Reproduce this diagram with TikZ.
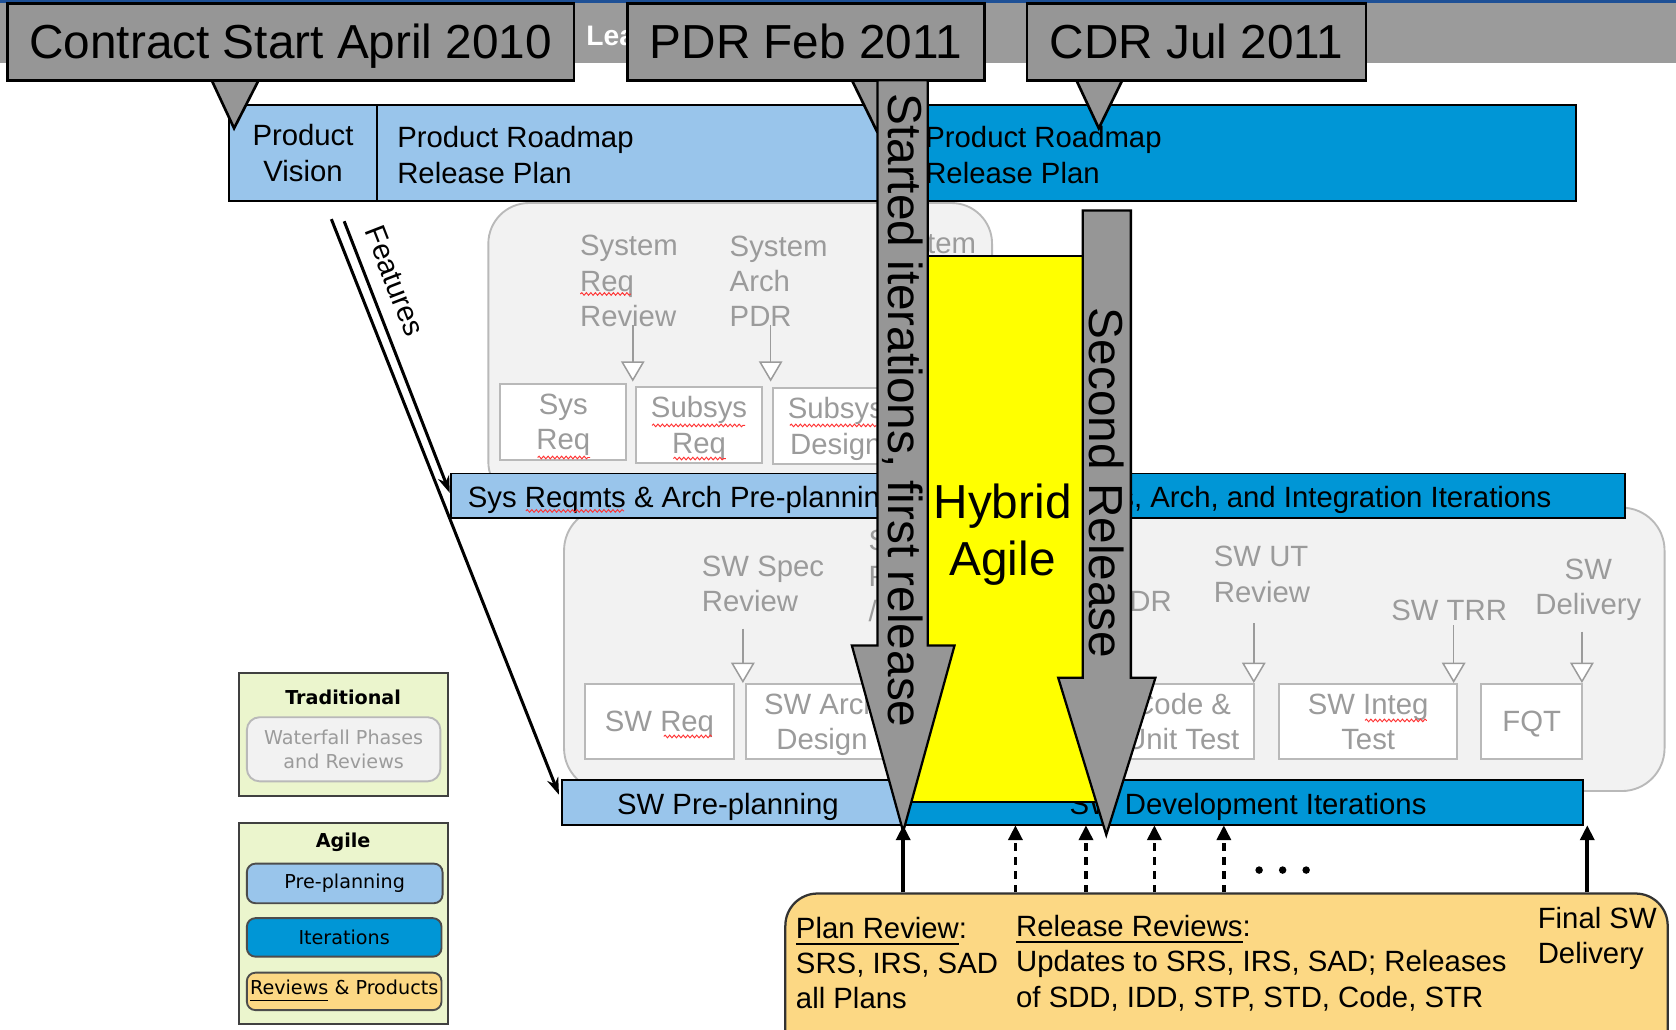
\documentclass[tikz,border=0pt]{standalone}
\usepackage{fontspec}
\setmainfont{Liberation Sans}
\newfontfamily\legendfont{DejaVu Sans}
\usetikzlibrary{arrows.meta,decorations.pathmorphing}
\definecolor{lightbar}{RGB}{153,197,235}
\definecolor{darkbar}{RGB}{0,150,214}
\definecolor{callgray}{RGB}{150,150,150}
\definecolor{bandgray}{RGB}{155,155,155}
\definecolor{topblue}{RGB}{30,80,150}
\definecolor{phasefill}{RGB}{242,242,242}
\definecolor{phaseline}{RGB}{185,185,185}
\definecolor{phasetext}{RGB}{155,155,155}
\definecolor{reviewfill}{RGB}{252,216,132}
\definecolor{legendfill}{RGB}{235,245,205}
\definecolor{hybrid}{RGB}{255,255,0}

\begin{document}
\begin{tikzpicture}[x=0.01cm, y=-0.01cm,
    datebox/.style={draw=black, line width=0.7pt, fill=callgray, inner sep=0pt, text depth=0pt, font=\fontsize{12.7}{15.2}\selectfont},
    datetip/.style={draw=black, line width=0.7pt, fill=callgray},
    bar/.style={draw=black, line width=0.5pt, inner sep=0pt, outer sep=0pt},
    lbl/.style={inner sep=0pt, font=\fontsize{7.8}{9.4}\selectfont},
    barlbl/.style={lbl, text depth=0pt},
    phasebox/.style={draw=phaseline, line width=0.5pt, fill=phasefill, inner sep=0pt},
    phasetxt/.style={lbl, text=phasetext, align=left},
    docbox/.style={draw=phaseline, line width=0.5pt, fill=white, inner sep=0pt, minimum height=0.71cm, text=phasetext, align=center, text depth=0pt, font=\fontsize{7.8}{9.4}\selectfont},
    phasearrow/.style={draw=phasetext, line width=0.4pt, -{Triangle[length=0.19cm, width=0.22cm, fill=white]}},
    featarrow/.style={line width=0.8pt, -{Stealth[length=0.16cm, width=0.11cm]}},
    bigarrow/.style={draw=black, line width=0.6pt, fill=callgray},
    bigtxt/.style={inner sep=0pt, font=\fontsize{12.7}{15.2}\selectfont},
    uparrow/.style={line width=1pt, -{Triangle[length=0.14cm, width=0.13cm]}},
    dotarrow/.style={uparrow, dash pattern=on 2pt off 1.7pt},
    squig/.style={draw=red!80, line width=0.25pt, decorate, decoration={snake, amplitude=0.35pt, segment length=1.2pt}},
    legbox/.style={draw=black!75, line width=0.5pt, fill=legendfill, inner sep=0pt, minimum width=1.95cm},
    legitem/.style={draw=black!70, line width=0.5pt, rounded corners=0.08cm, inner sep=0pt, font=\legendfont\fontsize{5.1}{6.5}\selectfont, align=center}
  ]
  \useasboundingbox (0,0) rectangle (1568,963);
  \clip (0,0) rectangle (1568,963);

  % title band
  \fill[topblue] (0,0) rectangle (1568,3);
  \fill[bandgray] (0,3) rectangle (1568,59);
  \node[lbl, anchor=west, text=white, font=\fontsize{7.5}{9}\selectfont\bfseries] (lea) at (548,34) {Lea};

  % waterfall phases (system)
  \node[phasebox, rounded corners=0.38cm, minimum width=4.71cm, minimum height=2.80cm] (sysphase) at (692.5,330) {};
  \node[phasebox, rounded corners=0.40cm, minimum width=10.29cm, minimum height=2.65cm] (swphase) at (1042.5,607.5) {};

  \node[phasetxt, anchor=west] (sysrev) at (542,263) {System\\Req\\Review};
  \node[phasetxt, anchor=west] (archpdr) at (682,263) {System\\Arch\\PDR};
  \node[phasetxt, anchor=west] (systhird) at (821,230) {System};
  \node[docbox, minimum width=1.18cm] (sysreq) at (527,394.5) {Sys\\Req};
  \node[docbox, minimum width=1.18cm] (subreq) at (654,397.5) {Subsys\\Req};
  \node[docbox, minimum width=1.18cm] (subdes) at (782,398.5) {Subsys\\Design};
  \coordinate (r1a) at (592,304); \coordinate (r1b) at (592,357);
  \coordinate (r2a) at (721,304); \coordinate (r2b) at (721,357);
  \draw[phasearrow] (r1a) -- (r1b);
  \draw[phasearrow] (r2a) -- (r2b);
  \draw[squig] (543,275) -- (590,275);
  \draw[squig] (503,428) -- (552,428);
  \draw[squig] (610,398) -- (697,398);
  \draw[squig] (630,429) -- (679,429);
  \draw[squig] (739,398) -- (820,398);

  % waterfall phases (software)
  \node[phasetxt, anchor=west] (specrev) at (656,546.5) {SW Spec\\Review};
  \node[phasetxt, anchor=west] (swpdr) at (812,539) {SW\\PDR\\/};
  \node[phasetxt, anchor=east] (swcdr) at (1097,563) {SW CDR};
  \node[phasetxt, anchor=west] (utrev) at (1135,537.5) {SW UT\\Review};
  \node[phasetxt, anchor=west] (swtrr) at (1301,571) {SW TRR};
  \node[phasetxt, align=center] (swdel) at (1486,552) {SW\\Delivery};
  \node[docbox, minimum width=1.40cm, minimum height=0.70cm] (swreq) at (617,675) {SW Req};
  \node[docbox, minimum width=1.42cm, minimum height=0.70cm] (swarch) at (769,675) {SW Arch\\Design};
  \node[docbox, minimum width=1.34cm, minimum height=0.70cm] (code) at (1106,675) {Code \&\\Unit Test};
  \node[docbox, minimum width=1.66cm, minimum height=0.70cm] (integ) at (1280,675) {SW Integ\\Test};
  \node[docbox, minimum width=0.94cm, minimum height=0.70cm] (fqt) at (1433,675) {FQT};
  \coordinate (r3a) at (695,588);  \coordinate (r3b) at (695,639);
  \coordinate (r4a) at (1173,583); \coordinate (r4b) at (1173,639);
  \coordinate (r5a) at (1360,585); \coordinate (r5b) at (1360,639);
  \coordinate (r6a) at (1480,591); \coordinate (r6b) at (1480,639);
  \foreach \s/\e in {r3a/r3b, r4a/r4b, r5a/r5b, r6a/r6b}
    \draw[phasearrow] (\s) -- (\e);
  \draw[squig] (621,689) -- (666,689);
  \draw[squig] (1277,674) -- (1335,674);

  % agile bars
  \node[bar, fill=lightbar, minimum width=1.39cm, minimum height=0.90cm, align=center, font=\fontsize{7.8}{9.4}\selectfont] (vision) at (283.5,143) {Product\\Vision};
  \node[bar, fill=lightbar, minimum width=4.92cm, minimum height=0.90cm] (roadmap) at (599,143) {};
  \node[bar, fill=darkbar, minimum width=6.29cm, minimum height=0.90cm] (roadmapit) at (1159.5,143) {};
  \node[lbl, anchor=west, align=left] (roadmaptxt) at (371,145) {Product Roadmap\\Release Plan};
  \node[lbl, anchor=west, align=left] (roadmapittxt) at (865,145) {Product Roadmap\\Release Plan};

  \node[bar, fill=lightbar, minimum width=4.23cm, minimum height=0.42cm] (syspre) at (633.5,464) {};
  \node[bar, fill=darkbar, minimum width=6.75cm, minimum height=0.42cm] (sysit) at (1182.5,464) {};
  \node[barlbl, anchor=west] (sysptxt) at (437,465) {Sys Reqmts \& Arch Pre-planning};
  \node[barlbl, anchor=east] (sysittxt) at (1452,465) {Sys Reqmts, Arch, and Integration Iterations};
  \draw[squig] (492,478) -- (584,478);

  \node[bar, fill=lightbar, minimum width=3.19cm, minimum height=0.42cm] (swpre) at (685.5,751) {};
  \node[bar, fill=darkbar, minimum width=6.36cm, minimum height=0.42cm] (swit) at (1163,751) {};
  \node[barlbl] (swptxt) at (681,752) {SW Pre-planning};
  \node[barlbl, anchor=west] (swittxt) at (1000,752) {SW Development Iterations};

  % features
  \coordinate (feat1) at (310,205);
  \coordinate (feat2) at (322,207);
  \draw[featarrow, shorten >=0.08cm] (feat1) -- (swpre.west);
  \draw[featarrow, shorten >=0.03cm] (feat2) -- (syspre.west)
    node[lbl, pos=0.25, sloped, above=0.13cm] (featlbl) {Features};

  % milestones
  \draw[datetip] (198,75) -- (219,120) -- (242,75) -- cycle;
  \draw[datetip] (797,75) -- (820,122) -- (843,75) -- cycle;
  \draw[datetip] (1007,75) -- (1028,120) -- (1050,75) -- cycle;
  \node[datebox, minimum width=5.30cm, minimum height=0.72cm] (contract) at (272,39) {Contract Start April 2010};
  \node[datebox, minimum width=3.34cm, minimum height=0.72cm] (pdr) at (754,39) {PDR Feb 2011};
  \node[datebox, minimum width=3.17cm, minimum height=0.72cm] (cdr) at (1119.5,39) {CDR Jul 2011};

  % hybrid agile
  \node[draw=black, line width=0.5pt, fill=hybrid, minimum width=1.90cm, minimum height=5.10cm, inner sep=0pt] (hybridbox) at (945,495) {};
  \node[bigtxt, align=center] (hybridtxt) at (938,500) {Hybrid\\Agile};

  \draw[bigarrow] (821,75) -- (868,75) -- (868,604) -- (893,604) -- (845,778) -- (797,604) -- (821,604) -- cycle;
  \node[bigtxt, rotate=-90] (startedtxt) at (845,384) {Started iterations, first release};
  \draw[bigarrow] (1013,197) -- (1058,197) -- (1058,634) -- (1081,634) -- (1035,781) -- (990,634) -- (1013,634) -- cycle;
  \node[bigtxt, rotate=-90] (secondtxt) at (1035,452) {Second Release};

  % reviews and products
  \node[draw=black!80, line width=0.6pt, fill=reviewfill, rounded corners=0.3cm, minimum width=8.25cm, minimum height=1.60cm, inner sep=0pt] (reviews) at (1147.5,916) {};
  \node[lbl, anchor=west, align=left] (plantxt) at (744,901) {\underline{Plan Review}:\\SRS, IRS, SAD\\all Plans};
  \node[lbl, anchor=west, align=left] (reltxt) at (950,901) {\underline{Release Reviews}:\\Updates to SRS, IRS, SAD; Releases\\of SDD, IDD, STP, STD, Code, STR};
  \node[lbl, anchor=west, align=left] (finaltxt) at (1438,878) {Final SW\\Delivery};

  \draw[uparrow] (reviews.north -| 845,0) -- (swit.south -| 845,0);
  \foreach \x in {950,1016,1080,1145}
    \draw[dotarrow] (reviews.north -| \x,0) -- (swit.south -| \x,0);
  \draw[uparrow] (reviews.north -| 1485,0) -- (swit.south -| 1485,0);
  \foreach \x in {1178,1200,1222}
    \fill (\x,814) circle (0.035cm);

  % legend
  \node[legbox, minimum height=1.15cm] (tradbox) at (321.5,687.5) {};
  \node[lbl, font=\legendfont\bfseries\fontsize{5.1}{6.5}\selectfont] (tradtitle) at (321,652) {Traditional};
  \node[legitem, draw=phaseline, fill=phasefill, text=phasetext, rounded corners=0.12cm, minimum width=1.81cm, minimum height=0.60cm] (tradwf) at (321.5,701) {Waterfall Phases\\and Reviews};
  \node[legbox, minimum height=1.88cm] (agilebox) at (321.5,864) {};
  \node[lbl, font=\legendfont\bfseries\fontsize{5.1}{6.5}\selectfont] (agiletitle) at (321,788) {Agile};
  \node[legitem, fill=lightbar, minimum width=1.83cm, minimum height=0.37cm] (legpre) at (322.5,826.5) {Pre-planning};
  \node[legitem, fill=darkbar, minimum width=1.82cm, minimum height=0.36cm] (legit) at (322,877) {Iterations};
  \node[legitem, fill=reviewfill, minimum width=1.82cm, minimum height=0.35cm] (legrev) at (322,927.5) {\underline{Reviews} \& Products};
\end{tikzpicture}
\end{document}
